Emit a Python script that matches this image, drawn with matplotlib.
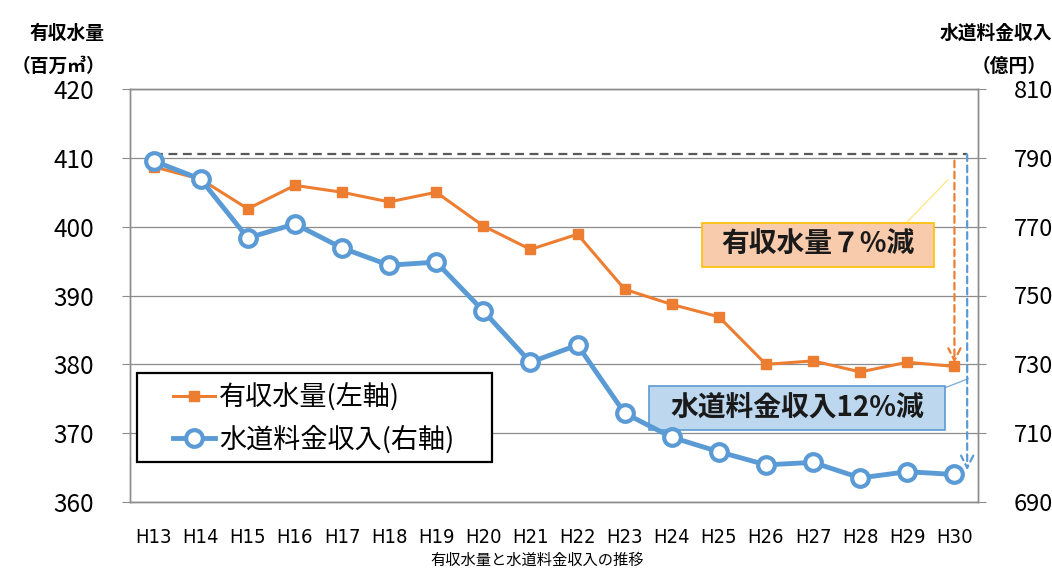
import numpy as np
import matplotlib.pyplot as plt
from matplotlib.patches import Rectangle

plt.rcParams['font.family'] = ['Noto Sans CJK JP', 'DejaVu Sans']

years = ["H13", "H14", "H15", "H16", "H17", "H18", "H19", "H20", "H21",
         "H22", "H23", "H24", "H25", "H26", "H27", "H28", "H29", "H30"]
# 有収水量 (百万m3, left axis)
volume = [408.7, 406.9, 402.6, 406.0, 405.0, 403.6, 405.0, 400.1, 396.7,
          398.9, 390.9, 388.7, 386.9, 380.0, 380.5, 378.9, 380.3, 379.7]
# 水道料金収入 (億円, right axis)
revenue = [789.1, 783.8, 766.7, 770.8, 763.8, 758.8, 759.7, 745.5, 730.6,
           735.6, 715.8, 708.8, 704.6, 700.8, 701.5, 697.0, 698.8, 698.0]

left_ticks = [360, 370, 380, 390, 400, 410, 420]
right_ticks = [690, 710, 730, 750, 770, 790, 810]

orange = "#ED7D31"
blue = "#5B9BD5"
grid_c = "#8C8C8C"

fig = plt.figure(figsize=(10.52, 5.70), dpi=100)
ax = fig.add_axes([130 / 1052, 1 - 502 / 570, 848 / 1052, 413 / 570])
ax2 = ax.twinx()

x = np.arange(len(years))
ax.set_xlim(-0.5, len(years) - 0.5)
ax.set_ylim(left_ticks[0], left_ticks[-1])
ax2.set_ylim(right_ticks[0], right_ticks[-1])
ax.set_yticks(left_ticks)
ax2.set_yticks(right_ticks)
ax.set_xticks(x)
ax.set_xticklabels(years, family='DejaVu Sans', fontstretch='condensed', fontsize=14.5)
ax.tick_params(axis='x', length=0, pad=19)
ax.tick_params(axis='y', length=6, color=grid_c, labelsize=17.5, pad=20)
ax2.tick_params(axis='y', length=6, color=grid_c, labelsize=17, pad=20)
for a in (ax, ax2):
    for s in a.spines.values():
        s.set_color(grid_c)
        s.set_linewidth(1.0)
ax.grid(axis='y', color=grid_c, linewidth=0.9)
ax.set_axisbelow(True)

l1, = ax.plot(x, volume, color=orange, lw=2.2, marker='s', ms=7,
              label="有収水量(左軸)", zorder=3)
l2, = ax2.plot(x, revenue, color=blue, lw=3.5, marker='o', ms=12,
               mfc='white', mew=3, label="水道料金収入(右軸)", zorder=3)

# reference / arrow annotations
ax.plot([0, 17.27], [410.55, 410.55], color="#595959", lw=1.6, ls=(0, (4, 2.5)), zorder=2)
ax.annotate("", xy=(17.0, 380.2), xytext=(17.0, 409.6),
            arrowprops=dict(arrowstyle='->', color=orange, lw=1.6, ls=(0, (3, 2)),
                            mutation_scale=22, shrinkA=0, shrinkB=0))
ax.annotate("", xy=(17.27, 364.6), xytext=(17.27, 410.5),
            arrowprops=dict(arrowstyle='->', color=blue, lw=1.6, ls=(0, (3, 2)),
                            mutation_scale=22, shrinkA=0, shrinkB=0))

# labelled boxes
ax.plot([16.0, 16.86], [400.7, 406.8], color="#FFE680", lw=0.9, zorder=2)
ax.add_patch(Rectangle((11.64, 394.14), 4.93, 6.39,
                       fc="#F8CBAD", ec="#FFC000", lw=1.2, zorder=4))
ax.text(14.1, 397.3, "有収水量７%減", ha='center', va='center', fontsize=20,
        fontweight='bold', color='#1a1a1a', zorder=5)
ax.plot([16.8, 17.29], [376.6, 377.9], color="#7FA9D6", lw=0.9, zorder=2)
ax.add_patch(Rectangle((10.52, 370.46), 6.28, 6.39,
                       fc="#BDD7EE", ec="#5B9BD5", lw=1.2, zorder=4))
ax.text(13.66, 373.65, "水道料金収入12%減", ha='center', va='center', fontsize=20,
        fontweight='bold', color='#1a1a1a', zorder=5)

# legend with its own frame
ax2.add_patch(Rectangle((137 / 1052, 1 - 462 / 570), 355 / 1052, 89 / 570,
                        transform=fig.transFigure, fc='white', ec='black', lw=1.6, zorder=5))
leg = ax2.legend(handles=[l1, l2], loc='center left',
                 bbox_to_anchor=(173 / 1052, 1 - 418.5 / 570), bbox_transform=fig.transFigure,
                 fontsize=19.5, frameon=False, handlelength=1.55,
                 handletextpad=0.15, borderpad=0, labelspacing=0.52, borderaxespad=0)
leg.set_zorder(6)

# axis headers
fig.text(105 / 1052, 1 - 33 / 570, "有収水量", ha='right', va='center', fontsize=13.5, fontweight='bold')
fig.text(105 / 1052, 1 - 66 / 570, "（百万㎥）", ha='right', va='center', fontsize=13.5, fontweight='bold')
fig.text(1052 / 1052, 1 - 33 / 570, "水道料金収入", ha='right', va='center', fontsize=13.5, fontweight='bold')
fig.text(1047 / 1052, 1 - 66 / 570, "（億円）", ha='right', va='center', fontsize=13.5, fontweight='bold')
fig.text(537 / 1052, 1 / 570, "有収水量と水道料金収入の推移", ha='center', va='bottom', fontsize=11)

fig.savefig("out.png", dpi=100)
